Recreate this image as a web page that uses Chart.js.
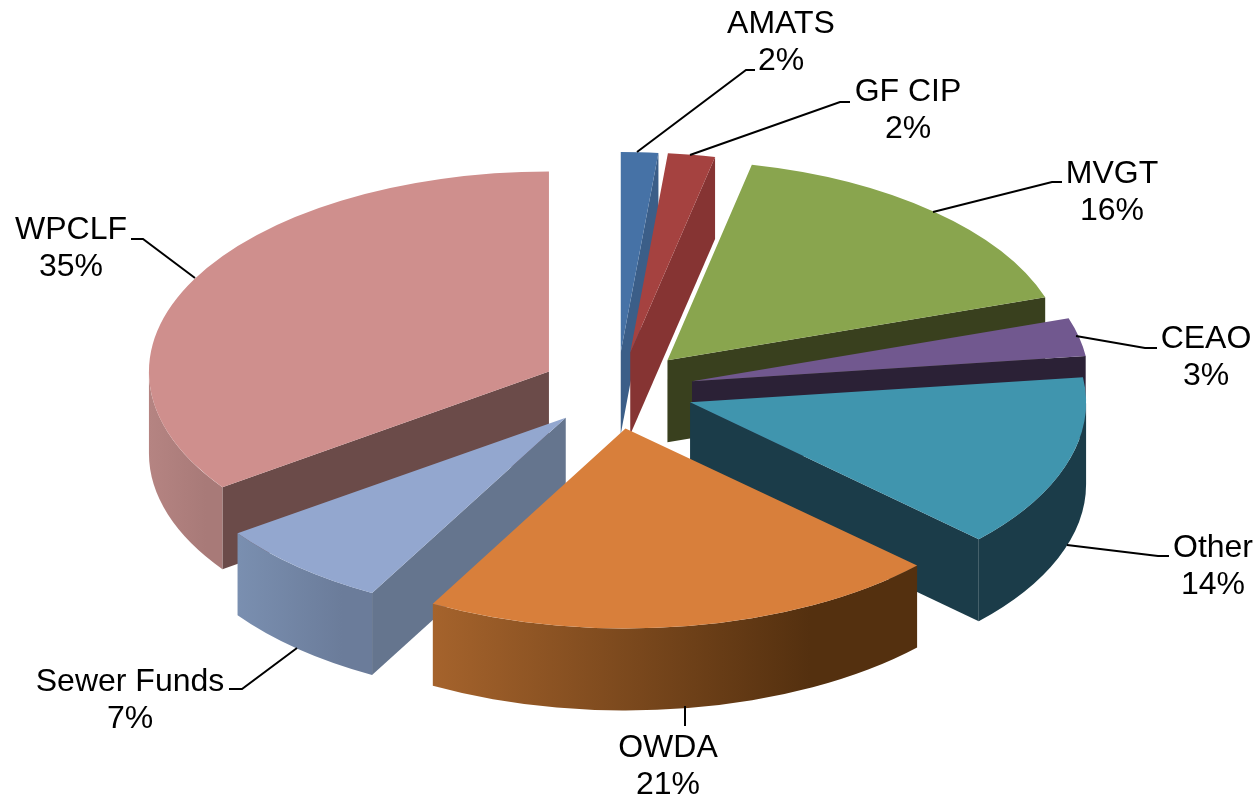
<!DOCTYPE html>
<html>
<head>
<meta charset="utf-8">
<title>Funding sources</title>
<script src="https://cdn.jsdelivr.net/npm/chart.js@4/dist/chart.umd.min.js"></script>
<style>
    html, body { margin: 0; padding: 0; background: #fff; }
    canvas { display: block; }
</style>
</head>
<body>
<canvas id="pie" width="1260" height="799"></canvas>
<script>
// values, the printed labels are rounded
const categories = ['AMATS', 'GF CIP', 'MVGT', 'CEAO', 'Other', 'OWDA', 'Sewer Funds', 'WPCLF'];
const shares = [1.5, 1.9, 16.5, 3.1, 14, 21, 7.2, 34.8];
const percentLabels = ['2%', '2%', '16%', '3%', '14%', '21%', '7%', '35%'];
const topColors = ['#4672a6', '#a54240', '#89a54e', '#71588f', '#4095ae', '#d87f3b', '#93a7cf', '#cf8f8d'];
const edgeColors = ['#3b5e88', '#863433', '#39401e', '#2b2136', '#1b3c49', '#55300f', '#65758e', '#6b4b49'];
const wallFrom = ['#3b5e88', '#863433', '#39401e', '#2b2136', '#1b3c49', '#a5632c', '#7a8fb0', '#b58482'];
const wallTo = ['#3b5e88', '#863433', '#39401e', '#2b2136', '#1b3c49', '#54300f', '#6b7c9a', '#a87a78'];

// back to front
const drawOrder = [0, 1, 2, 7, 3, 4, 6, 5];

const view = { x: 616, y: 390, squash: 0.5, depth: 82, explode: 80 };

// the original has a little perspective, so each slice sits slightly off the plain ellipse
const nudge = [[1, 2], [2, 2], [-2, 0], [-2, 0], [-2, 0], [-3, -1], [3, -2], [4, 0]];
const rimScale = [1, 1, 0.995, 0.992, 0.99, 1, 1.005, 1];

// label centre, then the leader line from the slice to the text
const labelLayout = [
    { x: 781, y: 24, line: [[637, 152], [746, 70], [755, 70]] },
    { x: 908, y: 92, line: [[690, 155], [840, 102], [850, 102]] },
    { x: 1112, y: 174, line: [[933, 212], [1052, 182], [1062, 182]] },
    { x: 1206, y: 339, line: [[1076, 336], [1145, 348], [1157, 348]] },
    { x: 1213, y: 548, line: [[1067, 545], [1158, 556], [1169, 556]] },
    { x: 668, y: 748, line: [[685, 706], [685, 726]] },
    { x: 130, y: 682, line: [[297, 648], [242, 689], [229, 689]] },
    { x: 71, y: 230, line: [[195, 278], [143, 239], [131, 239]] }
];

function sliceCentre(arc, i) {
    const mid = (arc.startAngle + arc.endAngle) / 2;
    return {
        x: view.x + Math.cos(mid) * view.explode + nudge[i][0],
        y: view.y + Math.sin(mid) * view.explode * view.squash + nudge[i][1]
    };
}

function rimPoint(c, r, i, angle) {
    return {
        x: c.x + Math.cos(angle) * r * rimScale[i],
        y: c.y + Math.sin(angle) * r * view.squash
    };
}

function drawRadialWall(ctx, c, r, i, angle) {
    const p = rimPoint(c, r, i, angle);
    ctx.fillStyle = edgeColors[i];
    ctx.beginPath();
    ctx.moveTo(c.x, c.y);
    ctx.lineTo(p.x, p.y);
    ctx.lineTo(p.x, p.y + view.depth);
    ctx.lineTo(c.x, c.y + view.depth);
    ctx.closePath();
    ctx.fill();
}

function drawOuterWall(ctx, c, r, arc, i) {
    // only the part of the rim facing the viewer shows
    let a0 = arc.startAngle;
    let a1 = arc.endAngle;
    const twoPi = Math.PI * 2;
    while (a1 > twoPi) { a0 -= twoPi; a1 -= twoPi; }
    a0 = Math.max(a0, 0);
    a1 = Math.min(a1, Math.PI);
    if (a1 <= a0) return;

    const p0 = rimPoint(c, r, i, a0);
    const p1 = rimPoint(c, r, i, a1);
    const grad = ctx.createLinearGradient(p1.x, 0, p0.x, 0);
    grad.addColorStop(0, wallFrom[i]);
    grad.addColorStop(0.78, wallTo[i]);
    grad.addColorStop(1, wallTo[i]);
    ctx.fillStyle = grad;
    const rx = r * rimScale[i];
    const ry = r * view.squash;
    ctx.beginPath();
    ctx.ellipse(c.x, c.y, rx, ry, 0, a0, a1);
    ctx.ellipse(c.x, c.y + view.depth, rx, ry, 0, a1, a0, true);
    ctx.closePath();
    ctx.fill();
}

const pie3d = {
    id: 'pie3d',
    beforeDatasetDraw(chart, args) {
        const ctx = chart.ctx;
        const arcs = args.meta.data;
        drawOrder.forEach((i) => {
            const arc = arcs[i];
            const c = sliceCentre(arc, i);
            const r = arc.outerRadius;

            if (Math.cos(arc.startAngle) < 0) drawRadialWall(ctx, c, r, i, arc.startAngle);
            if (Math.cos(arc.endAngle) > 0) drawRadialWall(ctx, c, r, i, arc.endAngle);
            drawOuterWall(ctx, c, r, arc, i);

            ctx.save();
            ctx.translate(c.x, c.y);
            ctx.scale(rimScale[i], view.squash);
            ctx.translate(-arc.x, -arc.y);
            arc.draw(ctx);
            ctx.restore();
        });
        return false;
    },
    afterDraw(chart) {
        const ctx = chart.ctx;
        ctx.save();
        ctx.strokeStyle = '#000';
        ctx.lineWidth = 2;
        ctx.fillStyle = '#000';
        ctx.font = '32px "Liberation Sans", Arial, sans-serif';
        ctx.textAlign = 'center';
        ctx.textBaseline = 'middle';
        labelLayout.forEach((lab, i) => {
            ctx.beginPath();
            lab.line.forEach((p, j) => {
                if (j === 0) ctx.moveTo(p[0], p[1]);
                else ctx.lineTo(p[0], p[1]);
            });
            ctx.stroke();
            ctx.fillText(categories[i], lab.x, lab.y);
            ctx.fillText(percentLabels[i], lab.x, lab.y + 37);
        });
        ctx.restore();
    }
};

new Chart(document.getElementById('pie'), {
    type: 'pie',
    data: {
        labels: categories,
        datasets: [{
            data: shares,
            backgroundColor: topColors,
            borderWidth: 0
        }]
    },
    options: {
        responsive: false,
        animation: false,
        radius: 400,
        layout: { padding: 0 },
        plugins: { legend: { display: false }, tooltip: { enabled: false } }
    },
    plugins: [pie3d]
});
</script>
</body>
</html>
